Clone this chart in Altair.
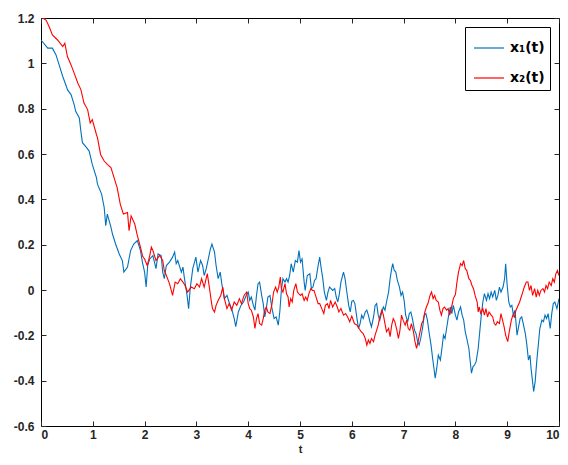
import altair as alt
import pandas as pd

# x1(t) - blue series
t1 = [0.00, 0.13, 0.22, 0.29, 0.35, 0.42, 0.49, 0.51, 0.58, 0.64, 0.67, 0.74, 0.77, 0.80, 0.88,
      0.93, 0.99, 1.07, 1.09, 1.17, 1.22, 1.25, 1.28, 1.35, 1.38, 1.44, 1.51, 1.57, 1.60, 1.67,
      1.73, 1.79, 1.86, 1.92, 1.96,
      2.00, 2.03, 2.06, 2.10, 2.16, 2.22, 2.26, 2.32, 2.35, 2.38, 2.42, 2.48, 2.54, 2.58, 2.61,
      2.64, 2.71, 2.74, 2.77, 2.82, 2.85, 2.88, 2.93, 2.99, 3.03, 3.08, 3.12, 3.15, 3.19, 3.23,
      3.27, 3.30, 3.35, 3.38, 3.42, 3.46, 3.49, 3.54, 3.59, 3.63, 3.68, 3.73, 3.76, 3.81, 3.86,
      3.91, 3.96,
      4.00, 4.03, 4.06, 4.10, 4.13, 4.16, 4.19, 4.22, 4.26, 4.29, 4.32, 4.35, 4.38, 4.42, 4.46,
      4.50, 4.54, 4.58, 4.61, 4.64, 4.67, 4.71, 4.74, 4.77, 4.80, 4.83, 4.87, 4.91, 4.95, 4.98,
      5.01, 5.04, 5.08, 5.10, 5.14, 5.19, 5.22, 5.25, 5.28, 5.31, 5.35, 5.38, 5.41, 5.44, 5.47,
      5.51, 5.54, 5.57, 5.60, 5.63, 5.67, 5.70, 5.73, 5.76, 5.79, 5.84, 5.87, 5.90, 5.94, 5.97,
      6.00, 6.03, 6.06, 6.10, 6.13, 6.16, 6.19, 6.22, 6.26, 6.29, 6.32, 6.35, 6.38, 6.42, 6.45,
      6.48, 6.51, 6.54, 6.58, 6.61, 6.64, 6.67, 6.71, 6.74, 6.77, 6.79, 6.82, 6.85, 6.88, 6.92,
      6.95, 6.98, 7.01, 7.04, 7.08, 7.11, 7.14, 7.17, 7.21, 7.24, 7.27, 7.30, 7.33, 7.37, 7.40,
      7.43, 7.46, 7.49, 7.53, 7.56, 7.59, 7.61, 7.64, 7.67, 7.71, 7.74, 7.77, 7.80, 7.83, 7.87,
      7.90, 7.93, 7.96,
      8.00, 8.03, 8.06, 8.10, 8.13, 8.16, 8.19, 8.22, 8.26, 8.29, 8.31, 8.34, 8.37, 8.40, 8.44,
      8.47, 8.50, 8.53, 8.56, 8.60, 8.63, 8.66, 8.69, 8.72, 8.76, 8.79, 8.82, 8.85, 8.88, 8.92,
      8.95, 8.97, 9.00, 9.03, 9.06, 9.09, 9.12, 9.15, 9.19, 9.22, 9.25, 9.28, 9.31, 9.35, 9.38,
      9.41, 9.44, 9.46, 9.49, 9.51, 9.54, 9.57, 9.60, 9.63, 9.67, 9.70, 9.73, 9.76, 9.79, 9.83,
      9.86, 9.89, 9.92, 9.96, 10.00]
x1 = [1.103, 1.067, 1.067, 1.037, 0.993, 0.942, 0.898, 0.884, 0.862, 0.818, 0.788, 0.759, 0.700, 0.650, 0.628,
      0.613, 0.554, 0.496, 0.467, 0.423, 0.364, 0.284, 0.335, 0.277, 0.247, 0.203, 0.159, 0.130, 0.079, 0.101,
      0.174, 0.203, 0.218, 0.174, 0.120,
      0.079, 0.013, 0.108, 0.137, 0.152, 0.094, 0.159, 0.152, 0.079, 0.050, 0.108, 0.123, 0.145, 0.167, 0.116,
      0.130, 0.079, 0.101, 0.050, -0.024, -0.082, 0.006, 0.094, 0.145, 0.079, 0.130, 0.108, 0.064, 0.094, 0.137,
      0.181, 0.203, 0.167, 0.108, 0.050, 0.079, 0.028, -0.038, -0.024, -0.053, -0.082, -0.126, -0.162, -0.097, -0.068,
      -0.053, -0.024,
      -0.009, -0.046, -0.031, -0.068, -0.089, -0.024, 0.028, 0.035, -0.024, -0.060, -0.119, -0.082, -0.031, -0.024, -0.082,
      -0.126, -0.119, -0.155, -0.097, -0.002, 0.050, 0.035, 0.050, 0.035, 0.064, 0.116, 0.079, 0.130, 0.123, 0.174,
      0.123, 0.137, 0.035, -0.002, 0.064, 0.072, 0.006, 0.013, 0.042, 0.050, 0.108, 0.145, 0.094, 0.050, -0.009,
      -0.046, -0.009, 0.013, 0.006, -0.002, 0.006, -0.031, -0.053, -0.017, 0.035, 0.079, 0.050, -0.002, -0.068, -0.097,
      -0.050, -0.046, -0.060, -0.126, -0.170, -0.148, -0.111, -0.126, -0.097, -0.089, -0.111, -0.140, -0.162, -0.119, -0.068,
      -0.060, -0.111, -0.133, -0.097, -0.075, -0.089, -0.053, -0.009, 0.050, 0.094, 0.116, 0.086, 0.079, 0.042, 0.013,
      -0.024, -0.009, -0.046, -0.111, -0.140, -0.104, -0.097, -0.126, -0.177, -0.192, -0.228, -0.243, -0.214, -0.162, -0.111,
      -0.104, -0.133, -0.184, -0.243, -0.301, -0.353, -0.389, -0.345, -0.287, -0.309, -0.258, -0.199, -0.214, -0.170, -0.111,
      -0.075, -0.104, -0.068,
      -0.111, -0.133, -0.097, -0.075, -0.111, -0.133, -0.184, -0.214, -0.258, -0.323, -0.367, -0.338, -0.331, -0.316, -0.258,
      -0.184, -0.111, -0.053, -0.016, -0.046, -0.016, -0.038, -0.009, -0.031, -0.002, -0.046, -0.024, 0.013, -0.009, 0.013,
      0.050, 0.116, 0.020, -0.053, -0.075, -0.068, -0.111, -0.089, -0.199, -0.162, -0.126, -0.119, -0.148, -0.192, -0.243,
      -0.309, -0.287, -0.345, -0.404, -0.448, -0.404, -0.316, -0.243, -0.170, -0.133, -0.140, -0.111, -0.126, -0.104, -0.170,
      -0.104, -0.060, -0.053, -0.082, -0.038]

# x2(t) - red series
t2 = [0.00, 0.10, 0.16, 0.22, 0.32, 0.42, 0.46, 0.51, 0.58, 0.64, 0.71, 0.77, 0.83, 0.90, 0.95,
      0.99, 1.07, 1.09, 1.15, 1.22, 1.28, 1.35, 1.41, 1.47, 1.53, 1.59, 1.67, 1.70, 1.74, 1.81,
      1.86, 1.92, 1.96,
      2.00, 2.05, 2.10, 2.13, 2.16, 2.22, 2.29, 2.35, 2.38, 2.42, 2.48, 2.54, 2.59, 2.64, 2.69,
      2.74, 2.78, 2.83, 2.90, 2.96, 3.01, 3.06, 3.10, 3.15, 3.21, 3.25, 3.28, 3.31, 3.35, 3.38,
      3.42, 3.47, 3.51, 3.54, 3.59, 3.63, 3.68, 3.73, 3.78, 3.83, 3.87, 3.92, 3.97,
      4.00, 4.03, 4.06, 4.10, 4.13, 4.16, 4.19, 4.22, 4.26, 4.29, 4.32, 4.35, 4.38, 4.42, 4.46,
      4.49, 4.53, 4.56, 4.59, 4.62, 4.64, 4.67, 4.71, 4.74, 4.77, 4.79, 4.82, 4.85, 4.88, 4.92,
      4.95, 4.98, 5.01, 5.04, 5.08, 5.11, 5.14, 5.17, 5.21, 5.24, 5.27, 5.30, 5.35, 5.38, 5.42,
      5.46, 5.49, 5.53, 5.56, 5.59, 5.63, 5.68, 5.72, 5.75, 5.79, 5.84, 5.88, 5.92, 5.96,
      6.00, 6.05, 6.10, 6.14, 6.18, 6.22, 6.26, 6.29, 6.32, 6.35, 6.38, 6.42, 6.45, 6.48, 6.51,
      6.54, 6.58, 6.61, 6.64, 6.67, 6.71, 6.74, 6.77, 6.80, 6.83, 6.87, 6.90, 6.93, 6.96, 6.99,
      7.03, 7.06, 7.09, 7.12, 7.15, 7.19, 7.22, 7.25, 7.28, 7.31, 7.35, 7.38, 7.41, 7.44, 7.47,
      7.51, 7.54, 7.57, 7.60, 7.63, 7.67, 7.70, 7.73, 7.76, 7.79, 7.83, 7.86, 7.89, 7.92, 7.96,
      8.00, 8.03, 8.06, 8.10, 8.13, 8.16, 8.19, 8.22, 8.26, 8.29, 8.32, 8.35, 8.38, 8.42, 8.44,
      8.46, 8.49, 8.53, 8.56, 8.59, 8.62, 8.65, 8.69, 8.72, 8.75, 8.78, 8.81, 8.85, 8.88, 8.91,
      8.94, 8.97, 9.01, 9.04, 9.08, 9.11, 9.14, 9.17, 9.21, 9.24, 9.27, 9.30, 9.33, 9.37, 9.40,
      9.43, 9.46, 9.49, 9.53, 9.56, 9.59, 9.62, 9.65, 9.69, 9.72, 9.75, 9.78, 9.81, 9.85, 9.88,
      9.91, 9.94, 9.97, 10.00]
x2 = [1.205, 1.190, 1.160, 1.125, 1.103, 1.074, 1.089, 1.030, 0.993, 0.957, 0.913, 0.884, 0.825, 0.796, 0.737,
      0.752, 0.686, 0.672, 0.598, 0.569, 0.554, 0.540, 0.496, 0.452, 0.379, 0.335, 0.342, 0.262, 0.327, 0.291,
      0.240, 0.189, 0.150,
      0.137, 0.108, 0.152, 0.189, 0.174, 0.130, 0.152, 0.130, 0.086, 0.064, 0.028, -0.024, 0.035, 0.028, 0.050,
      0.035, 0.020, -0.009, 0.013, 0.006, 0.028, 0.013, 0.050, 0.013, 0.072, 0.013, -0.038, -0.082, -0.097, -0.068,
      -0.046, -0.024, 0.013, -0.038, -0.082, -0.060, -0.089, -0.053, -0.068, -0.038, -0.060, -0.024, -0.009,
      -0.060, -0.082, -0.089, -0.119, -0.170, -0.126, -0.104, -0.148, -0.155, -0.126, -0.089, -0.075, -0.097, -0.104, -0.060,
      -0.009, 0.013, -0.009, 0.013, 0.057, 0.006, -0.009, 0.028, -0.017, -0.031, -0.075, -0.038, -0.053, -0.002, 0.028,
      -0.009, -0.017, -0.024, -0.017, -0.046, -0.031, -0.046, -0.017, 0.006, -0.002, -0.002, -0.024, -0.060, -0.060, -0.082,
      -0.104, -0.068, -0.060, -0.082, -0.046, -0.075, -0.053, -0.075, -0.097, -0.082, -0.111, -0.104, -0.119, -0.140,
      -0.115, -0.148, -0.155, -0.170, -0.184, -0.192, -0.214, -0.243, -0.221, -0.236, -0.214, -0.228, -0.199, -0.177, -0.155,
      -0.119, -0.089, -0.111, -0.148, -0.184, -0.170, -0.206, -0.155, -0.126, -0.140, -0.177, -0.214, -0.177, -0.111, -0.133,
      -0.155, -0.133, -0.170, -0.177, -0.148, -0.184, -0.228, -0.258, -0.228, -0.192, -0.148, -0.133, -0.097, -0.075, -0.060,
      -0.024, -0.009, -0.038, -0.024, -0.046, -0.053, -0.089, -0.111, -0.082, -0.075, -0.089, -0.082, -0.111, -0.082, -0.038,
      -0.020, 0.035, 0.079, 0.116, 0.108, 0.130, 0.094, 0.086, 0.050, 0.042, 0.020, 0.006, -0.024, -0.053, -0.097,
      -0.075, -0.104, -0.082, -0.111, -0.082, -0.119, -0.097, -0.111, -0.119, -0.148, -0.155, -0.140, -0.148, -0.104, -0.133,
      -0.162, -0.199, -0.228, -0.184, -0.133, -0.111, -0.119, -0.089, -0.068, -0.053, -0.031, -0.009, 0.013, 0.035, 0.035,
      -0.002, 0.020, -0.024, 0.006, -0.031, -0.002, -0.024, -0.002, 0.006, -0.009, 0.020, 0.006, 0.035, 0.020, 0.050,
      0.035, 0.072, 0.086, 0.064]

names = ["x\u2081(t)", "x\u2082(t)"]
colors = ["#0072BD", "#FF0000"]
y_ticks = [-0.6, -0.4, -0.2, 0, 0.2, 0.4, 0.6, 0.8, 1, 1.2]
x_ticks = list(range(0, 11))

df = pd.concat([
    pd.DataFrame({"t": t1, "x": x1, "series": names[0], "order": range(len(t1))}),
    pd.DataFrame({"t": t2, "x": x2, "series": names[1], "order": range(len(t2))}),
])

FONT = "Liberation Sans"

xs = alt.Scale(domain=[0, 10], nice=False, zero=False)
ys = alt.Scale(domain=[-0.6, 1.2], nice=False, zero=False)

lines = alt.Chart(df).mark_line(strokeWidth=1.1, clip=True).encode(
    x=alt.X("t:Q", scale=xs, title="t",
            axis=alt.Axis(values=x_ticks, orient="bottom", offset=-5, tickSize=5, domain=False,
                          grid=False, labelPadding=3, titlePadding=3, titleFontSize=11,
                          format="d")),
    y=alt.Y("x:Q", scale=ys, title=None,
            axis=alt.Axis(values=y_ticks, orient="left", offset=-5, tickSize=5, domain=False,
                          grid=False, labelPadding=7,
                          labelExpr="toString(round(datum.value*10)/10)")),
    color=alt.Color("series:N", scale=alt.Scale(domain=names, range=colors),
                    legend=alt.Legend(title=None, orient="top-right", offset=9,
                                      strokeColor="black", padding=5, fillColor="white",
                                      symbolType="stroke", symbolSize=900, symbolStrokeWidth=1.2,
                                      symbolOffset=3,
                                      labelFontSize=14, labelFontWeight="bold", labelFont="DejaVu Sans",
                                      labelColor="black", labelOffset=5, rowPadding=7)),
    order="order:Q",
)

frame = alt.Chart(df).mark_line(strokeOpacity=0).encode(
    x=alt.X("t:Q", scale=xs, title=None,
            axis=alt.Axis(values=x_ticks, orient="top", offset=-5, tickSize=5, domain=False,
                          grid=False, labels=False)),
    y=alt.Y("x:Q", scale=ys, title=None,
            axis=alt.Axis(values=y_ticks, orient="right", offset=-5, tickSize=5, domain=False,
                          grid=False, labels=False)),
    detail="series:N",
    order="order:Q",
)

chart = alt.layer(lines, frame).resolve_axis(x="independent", y="independent").properties(
    width=518, height=408,
    autosize=alt.AutoSizeParams(type="none"),
    padding={"left": 33, "top": 10, "right": 1, "bottom": 31},
).configure_view(stroke="black", strokeWidth=1).configure_axis(
    labelFont=FONT, labelFontSize=12, labelFontWeight="bold", labelColor="#262626",
    titleFont=FONT, titleFontSize=12, titleFontWeight="bold", titleColor="#262626",
    tickColor="#262626", tickWidth=1,
)

chart.save("out.html", embed_options={"renderer": "svg", "actions": False})
